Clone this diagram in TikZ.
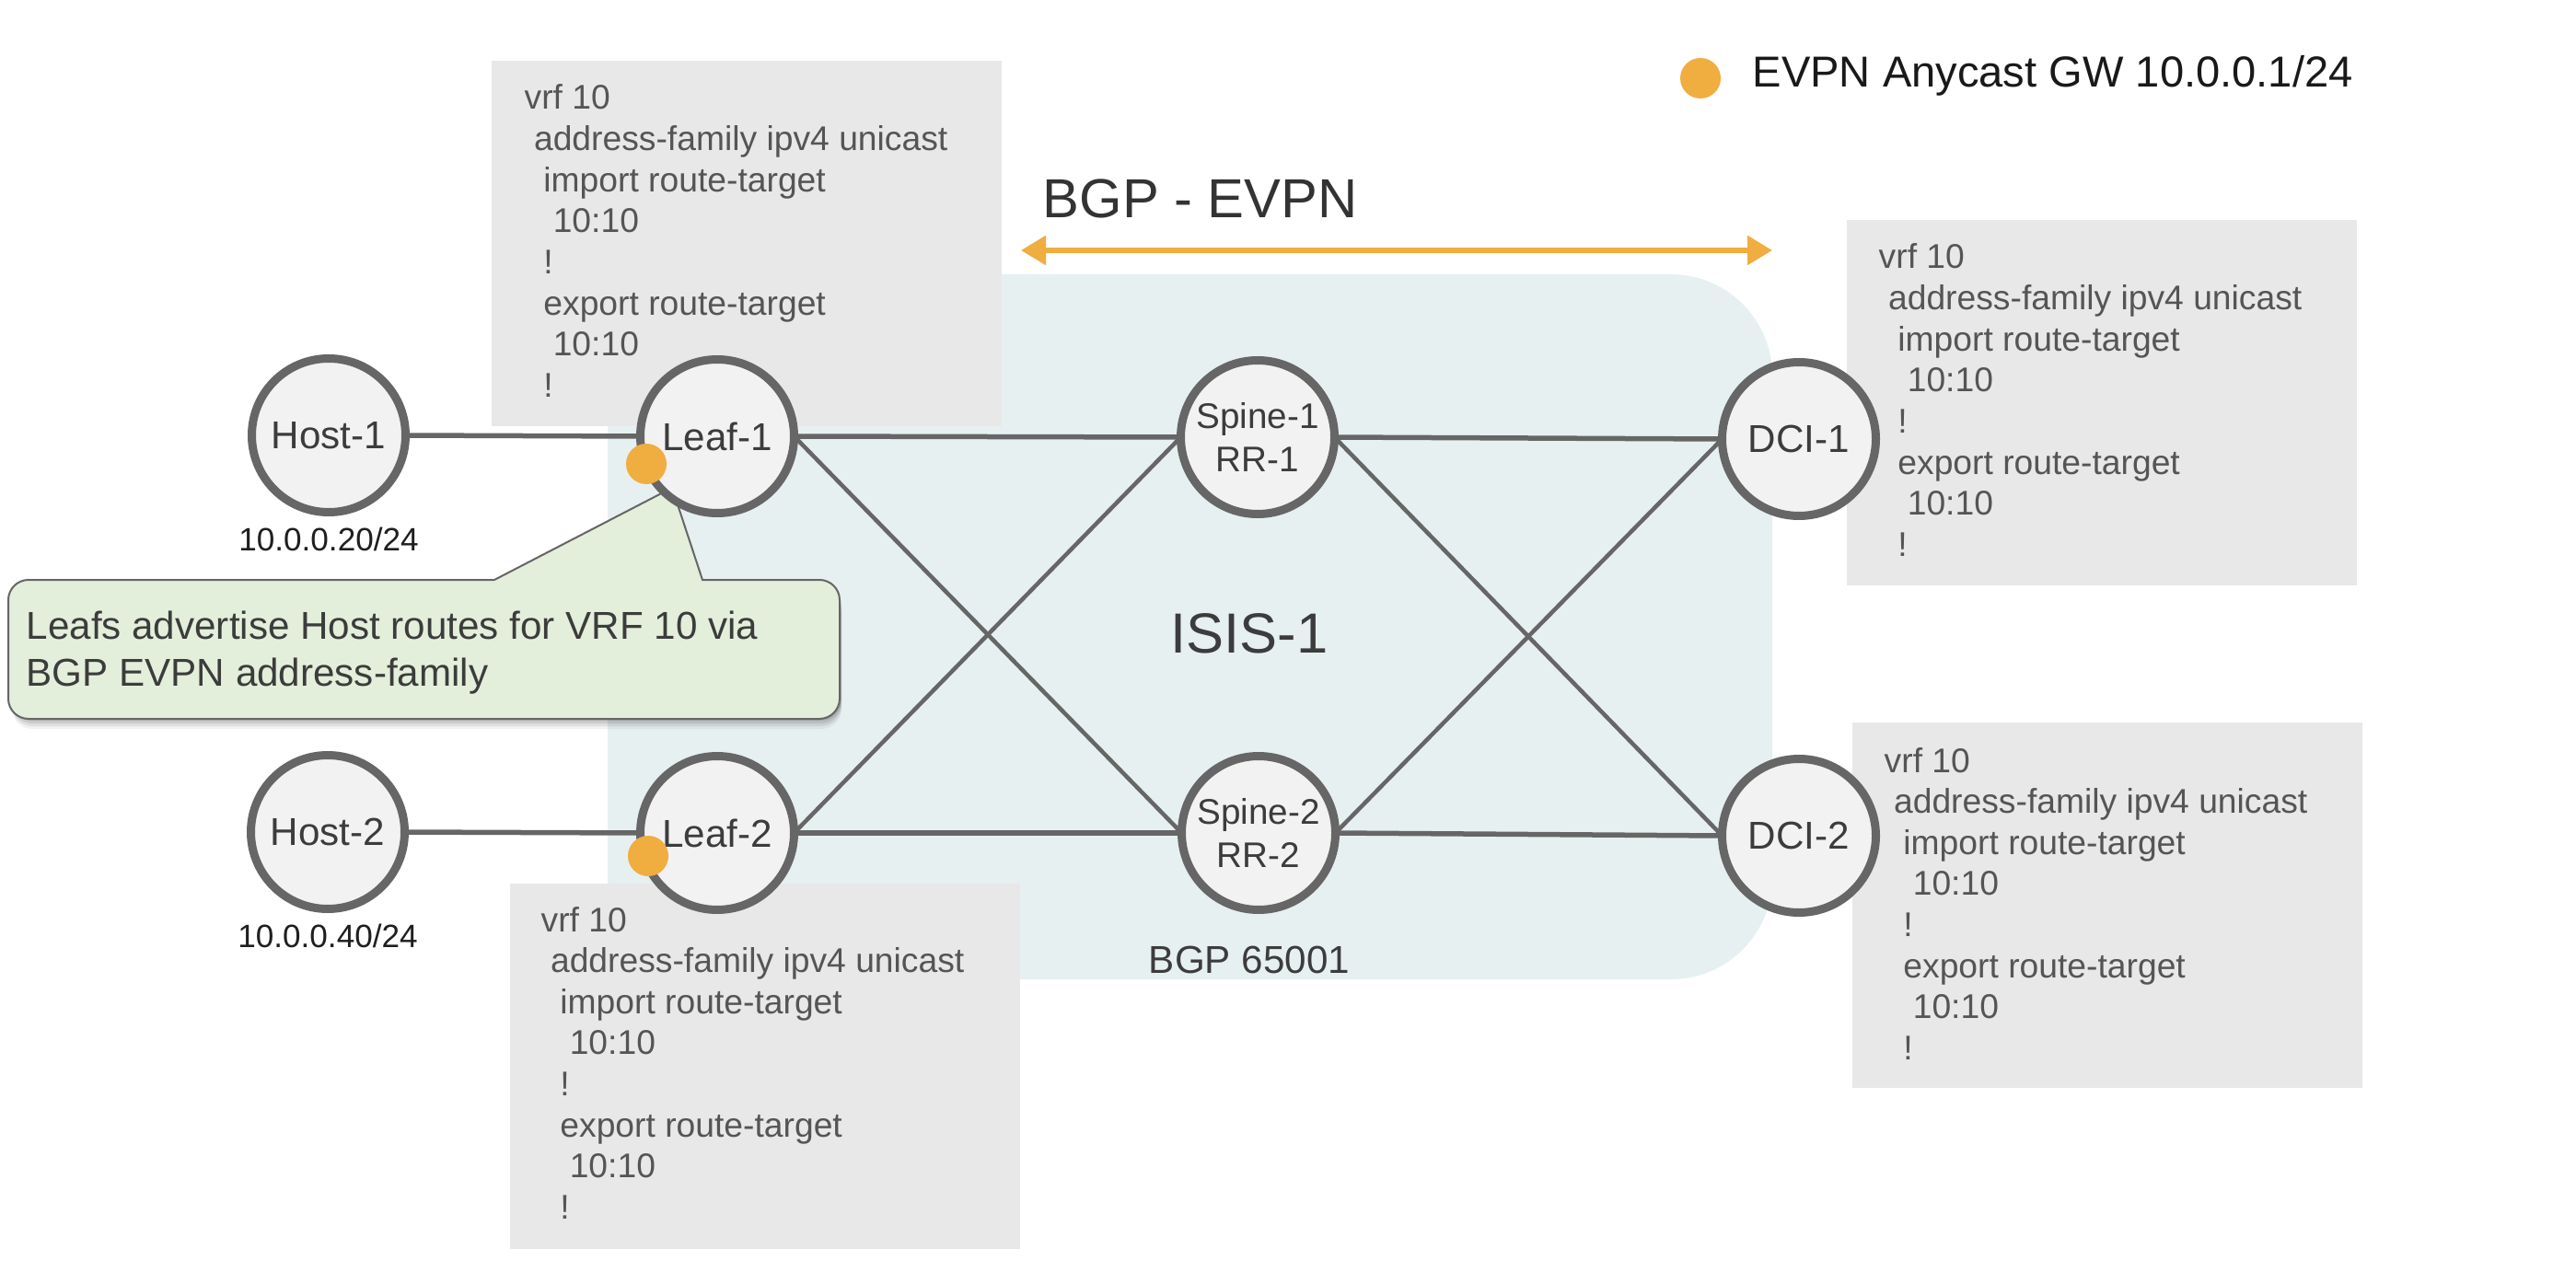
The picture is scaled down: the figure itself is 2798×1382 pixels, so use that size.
\documentclass[tikz,border=0pt]{standalone}
\usepackage{fontspec}
\setmainfont{Liberation Sans}
\usetikzlibrary{arrows.meta,calc}
\definecolor{isisbg}{RGB}{231,240,241}
\definecolor{nodefill}{RGB}{242,242,242}
\definecolor{nodeline}{RGB}{102,102,102}
\definecolor{cfgfill}{RGB}{232,232,232}
\definecolor{cfgtextc}{RGB}{85,85,85}
\definecolor{callfill}{RGB}{227,239,219}
\definecolor{gwdot}{RGB}{240,173,64}
\definecolor{labelc}{RGB}{60,60,60}
\pgfdeclarelayer{bglayer}
\pgfdeclarelayer{linklayer}
\pgfsetlayers{bglayer,linklayer,main}
\newcommand\cfgblock{\vtop{\baselineskip=12.7pt\lineskiplimit=-20pt
\hbox{vrf 10}
\hbox{\ address-family ipv4 unicast}
\hbox{\ \ import route-target}
\hbox{\ \ \ 10:10}
\hbox{\ \ !}
\hbox{\ \ export route-target}
\hbox{\ \ \ 10:10}
\hbox{\ \ !}}}
\newcommand\calloutblock{\vtop{\baselineskip=14.74pt\lineskiplimit=-20pt
\hbox{Leafs advertise Host routes for VRF 10 via}
\hbox{BGP EVPN address-family}}}
\tikzset{
  netnode/.style={circle, draw=nodeline, fill=nodefill, line width=0.9mm,
    minimum size=16.7mm, inner sep=0pt, outer sep=0pt,
    font=\fontsize{12}{14}\selectfont, text=labelc},
  spinenode/.style={netnode, align=center, font=\fontsize{11}{13.3}\selectfont},
  cfgbox/.style={rectangle, fill=cfgfill, draw=none, inner sep=0pt, outer sep=0pt,
    anchor=north west, minimum width=55.4mm, minimum height=39.7mm},
  cfgtxt/.style={inner sep=0pt, anchor=base west, text=cfgtextc,
    font=\fontsize{10.6}{12.7}\selectfont},
  gw/.style={circle, fill=gwdot, draw=none, minimum size=4.4mm, inner sep=0pt},
  link/.style={draw=nodeline, line width=0.45mm},
  hlink/.style={draw=nodeline, line width=0.55mm},
  iplabel/.style={inner sep=0pt, anchor=base, text=black!88,
    font=\fontsize{10}{12}\selectfont},
  plain/.style={inner sep=0pt, anchor=base, text=labelc},
  softshadow/.style={preaction={fill=black, opacity=#1, draw=none}},
  callstyle/.style={fill=callfill, draw=nodeline, line width=0.2mm}
}
\begin{document}
\begin{tikzpicture}[x=0.1mm, y=-0.1mm]
\useasboundingbox (0,0) rectangle (2798,1382);
\begin{pgfonlayer}{bglayer}
  \fill[white] (0,0) rectangle (2798,1382);
  \fill[isisbg, rounded corners=11mm] (660,298) rectangle (1925,1064);
\end{pgfonlayer}

% config boxes
\node[cfgbox] (cfg1) at (534,66) {};
\node[cfgbox] (cfg2) at (554,960) {};
\node[cfgbox] (cfg3) at (2006,239) {};
\node[cfgbox] (cfg4) at (2012,785) {};
\node[cfgtxt] (cfg1t) at ($(cfg1.north west)+(35,53)$) {\cfgblock};
\node[cfgtxt] (cfg2t) at ($(cfg2.north west)+(33,52)$) {\cfgblock};
\node[cfgtxt] (cfg3t) at ($(cfg3.north west)+(34,53)$) {\cfgblock};
\node[cfgtxt] (cfg4t) at ($(cfg4.north west)+(34,54)$) {\cfgblock};

% callout soft shadow
\foreach \dy/\op in {11/0.05, 8/0.07, 5/0.09, 2/0.1}{
  \fill[black, opacity=\op, rounded corners=2.2mm]
    (13,634+\dy) rectangle (914,781+\dy);
}
% callout
\draw[callstyle] (300,630) -- (537,630) -- (730,530) -- (763,630) [rounded corners=2.2mm] -- (912,630) -- (912,781) -- (9,781) -- (9,630) -- cycle;
\node[cfgtxt, text=labelc, font=\fontsize{12}{14.74}\selectfont] (calltext) at (28,694) {\calloutblock};

% network nodes
\node[netnode] (host1) at (357,473) {Host-1};
\node[netnode] (host2) at (356,904) {Host-2};
\node[netnode] (leaf1) at (779,474) {Leaf-1};
\node[netnode] (leaf2) at (779,905) {Leaf-2};
\node[spinenode] (spine1) at (1366,475) {Spine-1\\RR-1};
\node[spinenode] (spine2) at (1367,905) {Spine-2\\RR-2};
\node[netnode] (dci1) at (1954,477) {DCI-1};
\node[netnode] (dci2) at (1954,908) {DCI-2};

\begin{pgfonlayer}{linklayer}
  \draw[hlink] (host1.east) -- (leaf1.west);
  \draw[hlink] (host2.east) -- (leaf2.west);
  \draw[hlink] (leaf1.east) -- (spine1.west);
  \draw[link] (leaf1.east) -- (spine2.west);
  \draw[link] (leaf2.east) -- (spine1.west);
  \draw[hlink] (leaf2.east) -- (spine2.west);
  \draw[hlink] (spine1.east) -- (dci1.west);
  \draw[link] (spine1.east) -- (dci2.west);
  \draw[link] (spine2.east) -- (dci1.west);
  \draw[hlink] (spine2.east) -- (dci2.west);
\end{pgfonlayer}

% anycast gateway dots
\node[gw] (gw1) at (702,504) {};
\node[gw] (gw2) at (704,930) {};
\node[gw] (gwleg) at (1847,85) {};
\node[inner sep=0pt, anchor=base west, text=black!90, font=\fontsize{13.4}{16}\selectfont] (legtext) at (1903,95) {EVPN Anycast GW 10.0.0.1/24};

% BGP-EVPN arrow
\coordinate (bgpL) at (1109,272);
\coordinate (bgpR) at (1925,272);
\draw[gwdot, line width=0.55mm, {Triangle[length=2.7mm,width=3.1mm]}-{Triangle[length=2.7mm,width=3.1mm]}] (bgpL) -- (bgpR);
\node[inner sep=0pt, anchor=base west, text=black!80, font=\fontsize{17}{20}\selectfont] (bgptext) at (1132,237) {BGP - EVPN};

% labels
\node[iplabel] (ip1) at (357,598) {10.0.0.20/24};
\node[iplabel] (ip2) at (356,1029) {10.0.0.40/24};
\node[plain, font=\fontsize{17.5}{20}\selectfont] (isis) at (1357,709) {ISIS-1};
\node[plain, font=\fontsize{12}{14}\selectfont] (bgpas) at (1357,1057) {BGP 65001};
\end{tikzpicture}
\end{document}
